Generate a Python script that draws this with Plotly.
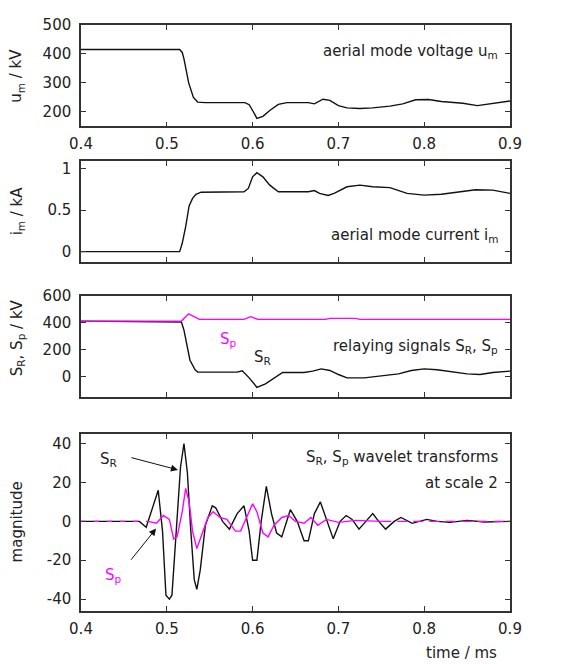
import plotly.graph_objects as go
from plotly.subplots import make_subplots

# aerial mode voltage u_m (kV)
t_um = [0.4, 0.515, 0.518, 0.520, 0.5255, 0.531, 0.536, 0.545, 0.591, 0.596, 0.600, 0.605,
        0.612, 0.62, 0.63, 0.64, 0.665, 0.672, 0.682, 0.69, 0.70, 0.71, 0.725, 0.74, 0.76,
        0.775, 0.79, 0.805, 0.82, 0.845, 0.862, 0.875, 0.89, 0.9]
um = [415, 415, 405, 383, 300, 250, 234, 232, 232, 225, 205, 178,
      185, 205, 226, 232, 232, 228, 244, 240, 222, 214, 212, 214, 220,
      228, 242, 243, 236, 230, 222, 228, 235, 238]

# aerial mode current i_m (kA)
t_im = [0.4, 0.515, 0.518, 0.522, 0.526, 0.530, 0.534, 0.540, 0.59, 0.595, 0.600, 0.605,
        0.612, 0.62, 0.63, 0.665, 0.672, 0.678, 0.688, 0.695, 0.71, 0.725, 0.74, 0.76,
        0.78, 0.80, 0.82, 0.84, 0.86, 0.88, 0.9]
im = [0, 0, 0.1, 0.3, 0.55, 0.64, 0.69, 0.715, 0.72, 0.76, 0.90, 0.95,
      0.90, 0.80, 0.72, 0.72, 0.735, 0.70, 0.675, 0.70, 0.78, 0.80, 0.78, 0.77,
      0.70, 0.68, 0.69, 0.72, 0.745, 0.74, 0.70]

# relaying signals S_R, S_p (kV)
t_sr = [0.4, 0.517, 0.520, 0.524, 0.527, 0.533, 0.536, 0.582, 0.588, 0.596, 0.605, 0.615,
        0.625, 0.635, 0.66, 0.67, 0.68, 0.69, 0.70, 0.71, 0.73, 0.75, 0.77, 0.785, 0.80,
        0.815, 0.83, 0.85, 0.865, 0.88, 0.9]
sr = [412, 405, 345, 217, 121, 50, 33, 33, 43, -10, -80, -55,
      -10, 30, 30, 40, 57, 45, 15, -10, -10, 5, 20, 45, 57,
      50, 35, 20, 15, 30, 40]
t_sp = [0.4, 0.517, 0.5255, 0.538, 0.59, 0.598, 0.606, 0.685, 0.69, 0.72, 0.725, 0.9]
sp = [412, 412, 466, 425, 425, 445, 425, 425, 432, 432, 425, 425]

# wavelet transforms at scale 2 (magnitude)
t_wr = [0.4, 0.468, 0.476, 0.490, 0.495, 0.499, 0.503, 0.506, 0.511, 0.516, 0.520, 0.524,
        0.528, 0.532, 0.535, 0.539, 0.545, 0.553, 0.557, 0.565, 0.573, 0.582, 0.590, 0.596,
        0.600, 0.605, 0.610, 0.616, 0.622, 0.628, 0.634, 0.644, 0.652, 0.660, 0.665, 0.672,
        0.679, 0.687, 0.694, 0.702, 0.709, 0.716, 0.724, 0.732, 0.740, 0.747, 0.755, 0.765,
        0.773, 0.786, 0.803, 0.815, 0.83, 0.85, 0.87, 0.9]
wr = [0, 0, -3, 16, -5, -38, -40, -38, -5, 28, 40, 25,
      -5, -30, -35, -25, -2, 8, 7, 0, -4, 4, 8, -5,
      -20, -20, 0, 18, 4, -6, -8, 6, 0, -10, -10, 4,
      10, 0, -9, 0, 3, 1, -4, 0, 4, 0, -4, 0,
      2, -1, 1, 0, -0.5, 0.5, -0.3, 0]
t_wp = [0.4, 0.478, 0.488, 0.496, 0.503, 0.508, 0.512, 0.518, 0.522, 0.526, 0.530, 0.535,
        0.54, 0.548, 0.554, 0.562, 0.570, 0.580, 0.586, 0.594, 0.600, 0.605, 0.612, 0.618,
        0.625, 0.634, 0.642, 0.650, 0.660, 0.668, 0.676, 0.686, 0.70, 0.72, 0.75, 0.9]
wp = [0, 0, -1, 3, 1, -9, -8, 5, 17, 10, -5, -14,
      -8, 2, 5, 2, 1, -5, -5, 3, 9, 5, -6, -8,
      -2, 2, 3, 0, -1, 2, -2, 1, -0.5, 0.5, 0, 0]

x_ticks = [0.4, 0.5, 0.6, 0.7, 0.8, 0.9]
y_ticks = [[200, 300, 400, 500], [0, 0.5, 1], [0, 200, 400, 600], [-40, -20, 0, 20, 40]]
y_labels = [['200', '300', '400', '500'], ['0', '0.5', '1'], ['0', '200', '400', '600'],
            ['-40', '-20', '0', '20', '40']]

BLK = '#111111'
MAG = '#ff00ff'
AX = '#333333'
FONT = dict(family='DejaVu Sans, Arial, sans-serif', size=15, color='#222222')

fig = make_subplots(rows=4, cols=1)

fig.add_trace(go.Scatter(x=t_um, y=um, mode='lines', line=dict(color=BLK, width=1.4)), row=1, col=1)
fig.add_trace(go.Scatter(x=t_im, y=im, mode='lines', line=dict(color=BLK, width=1.4)), row=2, col=1)
fig.add_trace(go.Scatter(x=t_sr, y=sr, mode='lines', line=dict(color=BLK, width=1.4)), row=3, col=1)
fig.add_trace(go.Scatter(x=t_sp, y=sp, mode='lines', line=dict(color=MAG, width=1.4)), row=3, col=1)
fig.add_trace(go.Scatter(x=t_wr, y=wr, mode='lines', line=dict(color=BLK, width=1.4)), row=4, col=1)
# S_p transform: solid where it oscillates, dashed where it lies on top of S_R at zero
fig.add_trace(go.Scatter(x=t_wp[1:-1], y=wp[1:-1], mode='lines', line=dict(color=MAG, width=1.4)), row=4, col=1)
fig.add_trace(go.Scatter(x=t_wp[:2], y=wp[:2], mode='lines',
	line=dict(color=MAG, width=1.4, dash='5px,8px')), row=4, col=1)
fig.add_trace(go.Scatter(x=t_wp[-2:], y=wp[-2:], mode='lines',
	line=dict(color=MAG, width=1.4, dash='10px,6px')), row=4, col=1)

# panel positions (paper coords; the page body adds an 8px offset)
domains = [[0.8308, 0.9878], [0.6220, 0.7774], [0.4131, 0.5691], [0.0823, 0.3556]]
y_ranges = [[150, 500], [-0.12, 1.09], [-150, 600], [-46, 45]]

for i in range(4):
	fig.update_xaxes(row=i + 1, col=1, range=[0.4, 0.9], tickvals=x_ticks,
		showticklabels=(i in (0, 3)), ticks='inside', ticklen=5, tickcolor=AX,
		showline=True, linecolor=AX, linewidth=1.5, mirror='ticks', showgrid=False,
		zeroline=False, tickfont=FONT, ticklabelstandoff=3)
	fig.update_yaxes(row=i + 1, col=1, range=y_ranges[i], tickvals=y_ticks[i], ticktext=y_labels[i],
		domain=domains[i], ticks='inside', ticklen=5, tickcolor=AX, showline=True, linecolor=AX,
		linewidth=1.5, mirror='ticks', showgrid=False, zeroline=False, tickfont=FONT,
		ticklabelstandoff=5)

ann = []
# y axis titles
y_titles = ['u<sub>m</sub> / kV', 'i<sub>m</sub> / kA', 'S<sub>R</sub>, S<sub>p</sub> / kV', 'magnitude']
y_pos = [0.5, 0.5, 0.58, 0.5]
for i, txt in enumerate(y_titles):
	yref = 'y domain' if i == 0 else 'y%d domain' % (i + 1)
	ann.append(dict(text=txt, xref='paper', x=-0.149, yref=yref, y=y_pos[i], textangle=-90,
		showarrow=False, font=FONT, xanchor='center', yanchor='middle'))

# panel labels
ann.append(dict(text='aerial mode voltage u<sub>m</sub>', xref='x domain', yref='y domain',
	x=0.977, y=0.738, xanchor='right', yanchor='middle', showarrow=False, font=FONT))
ann.append(dict(text='aerial mode current i<sub>m</sub>', xref='x2 domain', yref='y2 domain',
	x=0.977, y=0.255, xanchor='right', yanchor='middle', showarrow=False, font=FONT))
ann.append(dict(text='relaying signals S<sub>R</sub>, S<sub>p</sub>', xref='x3 domain', yref='y3 domain',
	x=0.977, y=0.5, xanchor='right', yanchor='middle', showarrow=False, font=FONT))
ann.append(dict(text='S<sub>p</sub>', xref='x3 domain', yref='y3 domain', x=0.319, y=0.567,
	showarrow=False, font=dict(FONT, color=MAG)))
ann.append(dict(text='S<sub>R</sub>', xref='x3 domain', yref='y3 domain', x=0.422, y=0.39,
	showarrow=False, font=FONT))
ann.append(dict(text='S<sub>R</sub>, S<sub>p</sub> wavelet transforms', xref='x4 domain', yref='y4 domain',
	x=0.977, y=0.864, xanchor='right', yanchor='middle', showarrow=False, font=FONT))
ann.append(dict(text='at scale 2', xref='x4 domain', yref='y4 domain',
	x=0.977, y=0.725, xanchor='right', yanchor='middle', showarrow=False, font=FONT))

# arrows in the wavelet panel
ann.append(dict(text='S<sub>R</sub>', xref='x4', yref='y4', x=0.432, y=32, showarrow=False, font=FONT))
ann.append(dict(text='', xref='x4', yref='y4', x=0.513, y=26.5, axref='x4', ayref='y4',
	ax=0.457, ay=33, showarrow=True, arrowhead=2, arrowsize=1.4, arrowwidth=1, arrowcolor=BLK))
ann.append(dict(text='S<sub>p</sub>', xref='x4', yref='y4', x=0.438, y=-28, showarrow=False,
	font=dict(FONT, color=MAG)))
ann.append(dict(text='', xref='x4', yref='y4', x=0.4875, y=-3.7, axref='x4', ayref='y4',
	ax=0.457, ay=-20.5, showarrow=True, arrowhead=2, arrowsize=1.4, arrowwidth=1, arrowcolor=BLK))

# x axis title
ann.append(dict(text='time / ms', xref='paper', yref='paper', x=0.888, y=0.0,
	xanchor='center', yanchor='bottom', showarrow=False, font=FONT))

fig.update_layout(width=551, height=656, margin=dict(l=73, r=49, t=0, b=0),
	paper_bgcolor='white', plot_bgcolor='white', showlegend=False,
	annotations=ann, font=FONT)

fig.write_html("out.html")
